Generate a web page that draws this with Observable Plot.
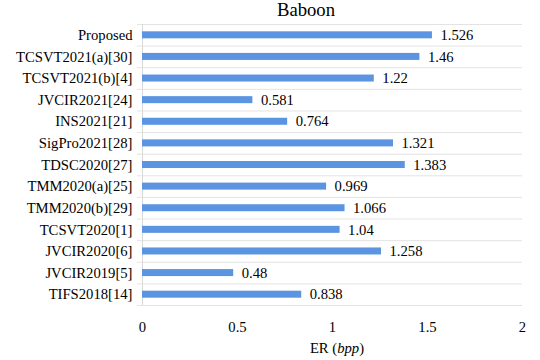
<!DOCTYPE html>
<html>
<head>
<meta charset="utf-8">
<script src="https://cdn.jsdelivr.net/npm/d3@7"></script>
<script src="https://cdn.jsdelivr.net/npm/@observablehq/plot@0.6"></script>
<style>
  html, body { margin: 0; padding: 0; background: #fff; }
  #chart svg { display: block; }
  #chart svg text { font-family: 'Liberation Serif', 'Times New Roman', Times, serif; font-size: 14.67px; }
</style>
</head>
<body>
<div id="chart"></div>
<script>
// ---- data ----
const title = "Baboon";
const categories = [
  "Proposed", "TCSVT2021(a)[30]", "TCSVT2021(b)[4]", "JVCIR2021[24]", "INS2021[21]",
  "SigPro2021[28]", "TDSC2020[27]", "TMM2020(a)[25]", "TMM2020(b)[29]", "TCSVT2020[1]",
  "JVCIR2020[6]", "JVCIR2019[5]", "TIFS2018[14]"
];
const values = [1.526, 1.46, 1.22, 0.581, 0.764, 1.321, 1.383, 0.969, 1.066, 1.04, 1.258, 0.48, 0.838];
const valueLabels = ["1.526", "1.46", "1.22", "0.581", "0.764", "1.321", "1.383", "0.969", "1.066", "1.04", "1.258", "0.48", "0.838"];
const xTicks = [0, 0.5, 1, 1.5, 2];
const xLabelMain = "ER (";
const xLabelItalic = "bpp";
const xLabelEnd = ")";

const data = categories.map((c, i) => ({name: c, value: values[i], label: valueLabels[i]}));

// ---- layout / style ----
const W = 540, H = 360;
const mTop = 24, mBottom = 55, mLeft = 142, mRight = 18;
const halfBand = (H - mTop - mBottom) / categories.length / 2;
const font = "'Liberation Serif', 'Times New Roman', Times, serif";
const textColor = "#000";
const gridColor = "#e3e3e3";
const barColor = "#5b95e1";

const chart = Plot.plot({
  width: W,
  height: H,
  marginTop: mTop,
  marginBottom: mBottom,
  marginLeft: mLeft,
  marginRight: mRight,
  style: {fontFamily: font, fontSize: "14.67px", color: textColor, background: "#fff"},
  x: {domain: [0, 2], ticks: xTicks, tickSize: 0, tickPadding: 16, label: null, tickFormat: d => String(d)},
  y: {domain: categories, padding: 0, round: false, tickSize: 0, tickPadding: 10, label: null},
  marks: [
    Plot.ruleY(categories, {y: d => d, dy: -halfBand, stroke: gridColor, strokeWidth: 1, insetLeft: -5}),
    Plot.ruleY(categories.slice(-1), {y: d => d, dy: halfBand, stroke: gridColor, strokeWidth: 1, insetLeft: -5}),
    Plot.ruleX([0], {stroke: "#d9d9d9", strokeWidth: 1}),
    Plot.barX(data, {x: "value", y: "name", fill: barColor, insetTop: 7.3, insetBottom: 7.3}),
    Plot.text(data, {x: "value", y: "name", text: "label", dx: 8, textAnchor: "start", fill: textColor, fontSize: 14.67, fontFamily: font})
  ]
});

const svg = d3.select(chart);
svg.append("text")
  .attr("x", 306).attr("y", 16)
  .attr("text-anchor", "middle")
  .style("font-family", font).style("font-size", "18.67px")
  .attr("fill", textColor)
  .text(title);

const xl = svg.append("text")
  .attr("x", 337).attr("y", 352.5)
  .attr("text-anchor", "middle")
  .attr("fill", textColor);
xl.append("tspan").text(xLabelMain);
xl.append("tspan").attr("font-style", "italic").text(xLabelItalic);
xl.append("tspan").text(xLabelEnd);

document.getElementById("chart").appendChild(chart);
</script>
</body>
</html>
